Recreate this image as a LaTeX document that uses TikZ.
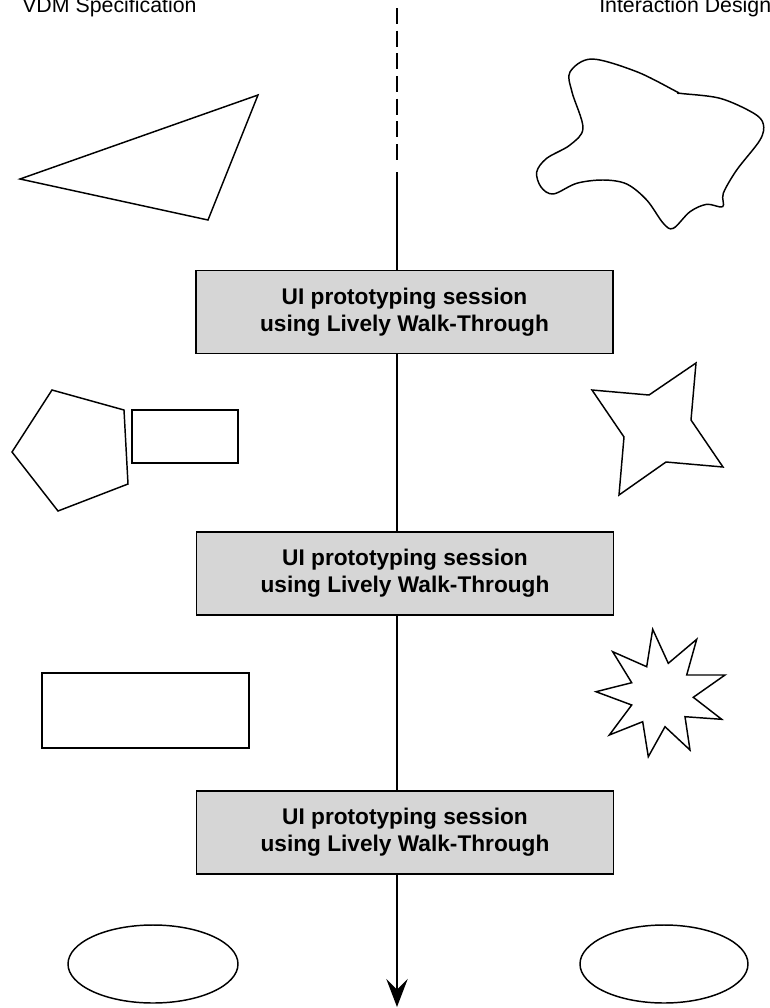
\documentclass[tikz,border=0pt]{standalone}
\usepackage{fontspec}
\setmainfont{Liberation Sans}
\usetikzlibrary{arrows.meta}
\definecolor{boxgray}{HTML}{D6D6D6}
\begin{document}
\begin{tikzpicture}[x=0.75pt, y=-0.75pt,
  outline/.style={draw, line width=1.1pt, line join=miter},
  session/.style={draw, fill=boxgray, line width=1.1pt, inner sep=0pt,
    minimum width=312.75pt, minimum height=62.5pt, align=center,
    font=\bfseries\fontsize{17}{20}\selectfont},
  heading/.style={anchor=base west, inner sep=0pt, font=\fontsize{16}{19}\selectfont},
  spine/.style={line width=1.7pt}]
\useasboundingbox (0,0) rectangle (769,1008);

% column headings
\node[heading] (vdm) at (22,12) {VDM Specification};
\node[heading] (ixd) at (599,12) {Interaction Design};

% sessions
\node[session] (s1) at (404.5,312) {UI prototyping session\\using Lively Walk-Through};
\node[session] (s2) at (405,573.5) {UI prototyping session\\using Lively Walk-Through};
\node[session] (s3) at (405,832.5) {UI prototyping session\\using Lively Walk-Through};

% time line
\coordinate (dtop) at (397,8);
\coordinate (dbot) at (397,166);
\coordinate (start) at (397,172);
\coordinate (tip) at (397,1007);
\draw[spine, dash pattern=on 12pt off 5pt] (dtop) -- (dbot);
\draw[spine] (start) -- (start |- s1.north);
\draw[spine] (start |- s1.south) -- (start |- s2.north);
\draw[spine] (start |- s2.south) -- (start |- s3.north);
\draw[spine, -{Stealth[length=21pt, width=16pt, inset=8pt]}] (start |- s3.south) -- (tip);

% left column shapes
\draw[outline] (20,179) -- (258,95) -- (208,220) -- cycle;
\draw[outline] (52,390) -- (124,410) -- (128,484) -- (58,511) -- (12,452) -- cycle;
\draw[outline] (132,410) rectangle (238,463);
\draw[outline] (42,673) rectangle (249,748);
\draw[outline] (153,964) ellipse [x radius=85, y radius=39];

% right column shapes
\draw[outline, line join=round] plot[smooth cycle, tension=0.55] coordinates {
  (591.7,59) (570,72) (572,92) (583,128) (570,145) (546.7,158.3) (536.7,172)
  (541,187) (553.3,194) (576.7,183.3) (603.3,180) (626.7,184) (646.7,200)
  (663.3,223.3) (673.3,228.3) (690,211.7) (706.7,204.3) (722.7,206.7)
  (723.3,193.3) (736.7,170) (760,140) (763.3,124) (753.3,113) (720,98.3)
  (680,93.3) (676.7,91.7) (636.7,71.7)};
\draw[outline] (592,390) -- (649,395) -- (696,363) -- (691,420) -- (723,467)
  -- (666,462) -- (619,495) -- (624,437) -- cycle;
\draw[outline] (652.7,629.3) -- (668.3,663.3) -- (696.7,639.3) -- (686.7,675)
  -- (725,675) -- (693.3,697.3) -- (721.7,719.3) -- (685,716.7) -- (690,750)
  -- (665,726.7) -- (648.3,756.7) -- (642.7,721.7) -- (609.3,735) -- (631.7,705)
  -- (596,691.7) -- (631.7,682.7) -- (612.7,651.7) -- (646.7,666.7) -- cycle;
\draw[outline] (664,964) ellipse [x radius=84, y radius=39];
\end{tikzpicture}
\end{document}
